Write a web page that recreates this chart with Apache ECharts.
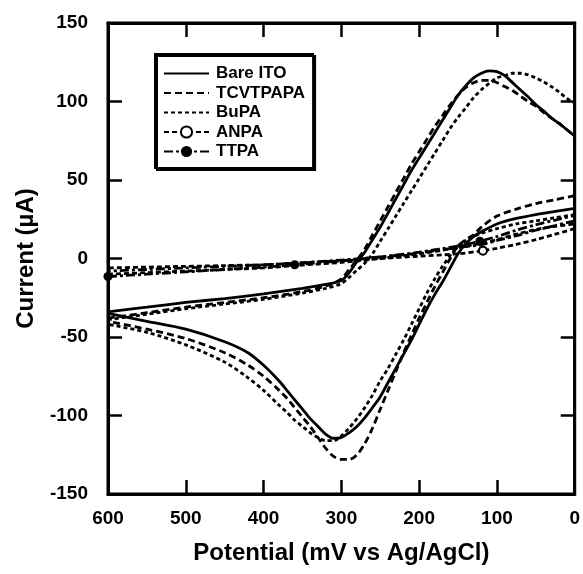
<!DOCTYPE html>
<html><head><meta charset="utf-8">
<script src="https://cdn.jsdelivr.net/npm/echarts@6/dist/echarts.min.js"></script>
<style>html,body{margin:0;padding:0;background:#fff}#c{width:583px;height:574px}</style>
</head><body><div id="c"></div>
<script>
// Potentials (mV vs Ag/AgCl)
const cvFwdPot = [600,550,500,450,400,350,320,300,290,280,270,260,250,240,230,220,210,200,190,180,170,160,150,140,130,120,110,100,90,80,70,60,50,40,30,20,10,0];
const cvRevPot = [0,25,50,75,100,120,130,140,150,160,170,180,190,200,210,220,230,240,250,260,270,280,290,300,310,320,330,340,350,360,370,380,400,420,450,500,550,600];
const flatFwdPot = [600,550,500,450,400,360,300,250,200,150,122,100,75,50,25,0];
const flatRevPot = [0,25,50,75,100,118,150,200,250,300,360,400,450,500,550,600];

// Currents (µA)
const bareFwd = [-34,-31,-28,-25.5,-22.5,-19,-16.5,-14,-9,-2,4,12,20,29,38,47,56,64,72,80,88,96,104,110,115,118,119.5,119,116.5,112,107.5,103,98,94,89.5,86,82,78];
const bareRev = [32,30,28,25.5,22,17,14,9.5,3,-6,-15,-23,-32,-42,-52,-61,-70,-79,-88,-95,-101.5,-107,-111,-114,-114.5,-112,-107,-102,-96,-90,-84,-78,-68,-60,-53,-45,-40,-35];
const tcvFwd = [-38,-34.5,-31,-28,-25,-21,-17.5,-13,-7,-1,6,15,24,33,42,51,60,68,76,84,91,98,104,109,112,113.5,113.5,112,109.5,107,103.5,100,97,93,89.5,86,82,78];
const tcvRev = [40,37.5,35,31.5,27,20,15,12,8,0,-9,-18,-28,-38,-49,-60,-72,-84,-96,-108,-118,-125,-128,-128,-126,-121,-114,-107,-101,-95,-89,-84,-75,-68,-60,-51,-45,-40];
const bupaFwd = [-39,-35.5,-32,-29,-26,-22,-19,-16,-12,-7.5,-3,3,11,19,27,35,43,51,59,67,75,83,90,96,102.5,107.5,111.5,115,116.5,118,118,117,115,112.5,109.5,106,102,99];
const bupaRev = [28,26,24,22,19,16,14,11.5,8,2,-5,-13,-22,-32,-42,-52,-61,-70,-78,-87,-95,-102,-108,-113,-116,-116,-114,-111,-107,-103,-98,-93.5,-84,-76,-66,-55,-47,-42];
const ttpaFwd = [-11.5,-10,-8.5,-7,-5.5,-4,-1.5,1,4,8,11,14,18,21.5,24.5,27.5];
const ttpaRev = [24,21,18,14.5,11.5,9,7,3.5,1,-1,-3,-4,-5,-6,-7,-8];
const anpaFwd = [-10,-9,-8,-7,-6,-4.5,-2.5,0,3,7,9.5,12,15.5,18.5,20.5,22];
const anpaRev = [19,15.5,12,9,6.5,5,3,1.5,0,-1.5,-3,-4,-4.5,-5,-5.5,-6];
// potentials where the symbols sit
const ttpaMarkerPot = [600,360,122];
const anpaMarkerPot = [118];

const names = ['Bare ITO','TCVTPAPA','BuPA','ANPA','TTPA'];
const markerNames = ['ANPA','TTPA'];
const xTicks = [0,100,200,300,400,500,600];
const yTicks = [-150,-100,-50,0,50,100,150];

const FONT = 'Liberation Sans, Arial, sans-serif';
function pts(xs, ys){ return xs.map((x,i)=>[x, ys[i]]); }
function markPts(xs, ys, marks){
  return xs.map((x,i)=> marks.indexOf(x) >= 0 ? {value:[x, ys[i]]} : {value:[x, ys[i]], symbol:'none'});
}
function lineSeries(name, data, dash, extra){
  return Object.assign({
    name, type:'line', data, symbol:'none', smooth:0.3, clip:true,
    lineStyle:{color:'#000', width:2.8, type:dash, cap:'butt'},
    itemStyle:{color:'#000'}, emphasis:{disabled:true}
  }, extra||{});
}
const dTCV=[7,4], dBU=[4,3], dAN=[5,3], dTT=[9,3,3,3];
const series = [
  lineSeries('Bare ITO', pts(cvFwdPot, bareFwd), 'solid'),
  lineSeries('Bare ITO', pts(cvRevPot, bareRev), 'solid'),
  lineSeries('TCVTPAPA', pts(cvFwdPot, tcvFwd), dTCV),
  lineSeries('TCVTPAPA', pts(cvRevPot, tcvRev), dTCV),
  lineSeries('BuPA', pts(cvFwdPot, bupaFwd), dBU),
  lineSeries('BuPA', pts(cvRevPot, bupaRev), dBU),
  lineSeries('ANPA', markPts(flatRevPot, anpaRev, anpaMarkerPot), dAN, {symbol:'emptyCircle', symbolSize:8, showSymbol:true, showAllSymbol:true, itemStyle:{color:'#000', borderWidth:1.5}}),
  lineSeries('ANPA', pts(flatFwdPot, anpaFwd), dAN),
  lineSeries('TTPA', markPts(flatFwdPot, ttpaFwd, ttpaMarkerPot), dTT, {symbol:'circle', symbolSize:9, showSymbol:true, showAllSymbol:true}),
  lineSeries('TTPA', pts(flatRevPot, ttpaRev), dTT)
];

const axisLine = {show:true, onZero:false, lineStyle:{color:'#000', width:3}};
const tick = {show:true, inside:true, length:14, lineStyle:{color:'#000', width:2.5}};
const chart = echarts.init(document.getElementById('c'), null, {renderer:'canvas'});
chart.setOption({
  animation:false,
  backgroundColor:'#fff',
  grid:{left:108, right:6, top:23, bottom:80, show:true, borderColor:'#000', borderWidth:3, backgroundColor:'transparent'},
  legend:{
    data:names.map(n => markerNames.indexOf(n) >= 0 ? {name:n} : {name:n, itemStyle:{opacity:0}}),
    orient:'vertical', left:155, top:54,
    itemWidth:45, itemHeight:14, itemGap:2.5,
    padding:[11,8,8,8],
    borderColor:'#000', borderWidth:2, backgroundColor:'#fff',
    shadowColor:'#000', shadowOffsetX:2, shadowOffsetY:2, shadowBlur:0,
    selectedMode:false,
    textStyle:{fontFamily:FONT, fontWeight:'bold', fontSize:17, color:'#000', padding:[0,0,0,2]}
  },
  xAxis:[
    {type:'value', min:xTicks[0], max:xTicks[xTicks.length-1], interval:100, inverse:true, position:'bottom',
     axisLine, axisTick:tick, splitLine:{show:false},
     axisLabel:{margin:15, fontFamily:FONT, fontWeight:'bold', fontSize:19, color:'#000'},
     name:'Potential (mV vs Ag/AgCl)', nameLocation:'middle', nameGap:47,
     nameTextStyle:{fontFamily:FONT, fontWeight:'bold', fontSize:24, color:'#000'}},
    {type:'value', min:xTicks[0], max:xTicks[xTicks.length-1], interval:100, inverse:true, position:'top',
     axisLine, axisTick:tick, splitLine:{show:false}, axisLabel:{show:false}}
  ],
  yAxis:[
    {type:'value', min:yTicks[0], max:yTicks[yTicks.length-1], interval:50, position:'left',
     axisLine, axisTick:tick, splitLine:{show:false},
     axisLabel:{margin:20, fontFamily:FONT, fontWeight:'bold', fontSize:19, color:'#000'},
     name:'Current (\u00B5A)', nameLocation:'middle', nameGap:70,
     nameTextStyle:{fontFamily:FONT, fontWeight:'bold', fontSize:24, color:'#000'}},
    {type:'value', min:yTicks[0], max:yTicks[yTicks.length-1], interval:50, position:'right',
     axisLine, axisTick:tick, splitLine:{show:false}, axisLabel:{show:false}}
  ],
  series
});
</script></body></html>
